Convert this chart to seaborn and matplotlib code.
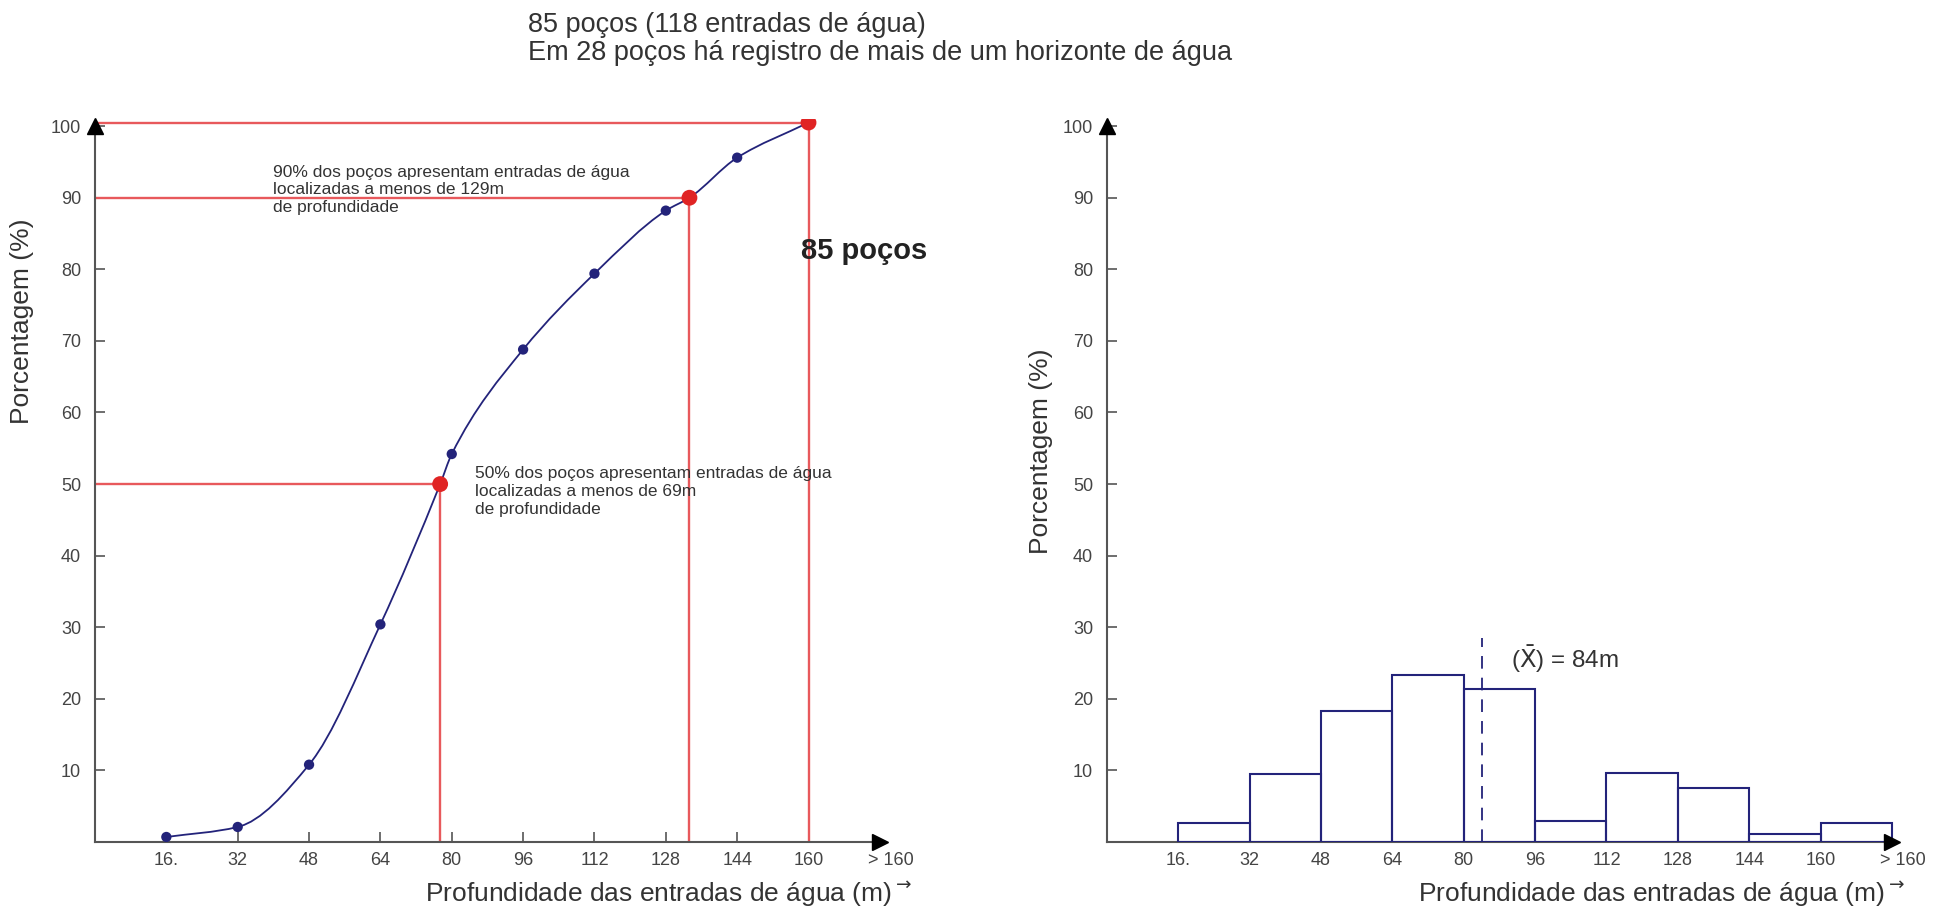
import numpy as np
import matplotlib
matplotlib.use("Agg")
import matplotlib.pyplot as plt
import seaborn as sns
from matplotlib.path import Path
from matplotlib.patches import PathPatch

# ---------------- data ----------------
depth_ticks = [16, 32, 48, 64, 80, 96, 112, 128, 144, 160]
depth_tick_labels = ["16.", "32", "48", "64", "80", "96", "112", "128", "144", "160"]
pct_ticks = [10, 20, 30, 40, 50, 60, 70, 80, 90, 100]

cum_depth = [16, 32, 48, 64, 80, 96, 112, 128, 144]
cum_pct = [0.7, 2.1, 10.8, 30.4, 54.2, 68.8, 79.4, 88.2, 95.6]

marker_depth = [77.4, 133.3, 160]
marker_pct = [50, 90, 100.5]

bin_edges = [16, 32, 48, 64, 80, 96, 112, 128, 144, 160, 176]
bin_pct = [2.6, 9.5, 18.3, 23.3, 21.4, 2.9, 9.6, 7.5, 1.1, 2.6]
mean_depth = 84
mean_line_top = 28.5

title_lines = ["85 poços (118 entradas de água)",
               "Em 28 poços há registro de mais de um horizonte de água"]
note_90 = "90% dos poços apresentam entradas de água\nlocalizadas a menos de 129m\nde profundidade"
note_50 = "50% dos poços apresentam entradas de água\nlocalizadas a menos de 69m\nde profundidade"

# ---------------- style ----------------
sns.set_theme(style="white")
plt.rcParams["font.family"] = ["Liberation Sans", "DejaVu Sans"]

NAVY = "#23237a"
RED_PT = "#e02424"
RED_LN = "#e8595c"
AX_C = "#555555"
TXT = "#333333"

fig = plt.figure(figsize=(19.36, 9.11), dpi=100)
fig.patch.set_facecolor("white")
axL = fig.add_axes([95 / 1936, 69 / 911, 796 / 1936, 723 / 911])
axR = fig.add_axes([1107 / 1936, 69 / 911, 796 / 1936, 723 / 911])

# ---------------- left: cumulative curve ----------------
xs = np.array(sorted(cum_depth + marker_depth), dtype=float)
all_y = dict(zip(cum_depth + marker_depth, cum_pct + marker_pct))
ys = np.array([all_y[x] for x in xs], dtype=float)

h = np.diff(xs)
d = np.diff(ys) / h
m = np.zeros_like(ys)
m[0], m[-1] = d[0], d[-1]
for k in range(1, len(xs) - 1):
    if d[k - 1] * d[k] <= 0:
        m[k] = 0.0
    else:
        w1 = 2 * h[k] + h[k - 1]
        w2 = h[k] + 2 * h[k - 1]
        m[k] = (w1 + w2) / (w1 / d[k - 1] + w2 / d[k])
verts = [(xs[0], ys[0])]
codes = [Path.MOVETO]
for k in range(len(xs) - 1):
    verts += [(xs[k] + h[k] / 3, ys[k] + m[k] * h[k] / 3),
              (xs[k + 1] - h[k] / 3, ys[k + 1] - m[k + 1] * h[k] / 3),
              (xs[k + 1], ys[k + 1])]
    codes += [Path.CURVE4] * 3
axL.add_patch(PathPatch(Path(verts, codes), facecolor="none",
                        edgecolor=NAVY, lw=1.3, zorder=3))

for x, y in zip(marker_depth, marker_pct):
    axL.hlines(y, 0, x, color=RED_LN, lw=1.7, zorder=2)
    axL.vlines(x, 0, y, color=RED_LN, lw=1.7, zorder=2)

sns.scatterplot(x=cum_depth, y=cum_pct, ax=axL, color=NAVY, s=55,
                edgecolor="none", zorder=4, legend=False)
sns.scatterplot(x=marker_depth, y=marker_pct, ax=axL, color=RED_PT, s=130,
                edgecolor="none", zorder=5, legend=False)

axL.text(40, 91.1, note_90, fontsize=12.5, color=TXT, va="center", ha="left",
         linespacing=1.2)
axL.text(85.3, 49.0, note_50, fontsize=12.5, color=TXT, va="center", ha="left",
         linespacing=1.25)
axL.text(158.3, 82.5, "85 poços", fontsize=21, fontweight="bold",
         color="#222222", va="center", ha="left")

# ---------------- right: histogram ----------------
bin_mids = [(a + b) / 2 for a, b in zip(bin_edges[:-1], bin_edges[1:])]
sns.histplot(x=bin_mids, weights=bin_pct, bins=bin_edges, ax=axR,
             fill=False, color=NAVY, linewidth=1.5, zorder=3)
axR.vlines(mean_depth, 0, mean_line_top, color=NAVY, lw=1.3,
           linestyles=(0, (7, 5)), zorder=4)
axR.text(90.5, 25.6, r"($\bar{\mathrm{X}}$) = 84m", fontsize=17.5,
         color=TXT, va="center", ha="left")

# ---------------- axes styling ----------------
for ax, ylab_xy, xlab_xy in [(axL, (-0.092, 0.72), (0.72, -0.073)),
                             (axR, (-0.083, 0.541), (0.697, -0.073))]:
    ax.set_xlim(0, 176)
    ax.set_ylim(0, 101)
    ax.set_facecolor("white")
    for s in ["top", "right"]:
        ax.spines[s].set_visible(False)
    ax.spines["left"].set_bounds(0, 100)
    ax.spines["bottom"].set_bounds(0, 176)
    for s in ["left", "bottom"]:
        ax.spines[s].set_color(AX_C)
        ax.spines[s].set_linewidth(1.5)
    ax.set_xticks(depth_ticks, labels=depth_tick_labels)
    ax.set_xticks([178.5], labels=["> 160"], minor=True)
    ax.set_yticks(pct_ticks)
    ax.tick_params(axis="both", which="major", direction="in", length=7,
                   width=1.2, color=AX_C, labelsize=13, labelcolor="#444444",
                   bottom=True, left=True)
    ax.tick_params(axis="x", which="major", pad=7)
    ax.tick_params(axis="y", which="major", pad=10)
    ax.tick_params(axis="x", which="minor", length=0, labelsize=13,
                   labelcolor="#444444", pad=7, bottom=True)
    ax.plot([176], [0], marker=">", color="black", ms=12, clip_on=False,
            zorder=6)
    ax.plot([0], [100], marker="^", color="black", ms=12, clip_on=False,
            zorder=6)
    ax.set_ylabel("Porcentagem (%)", fontsize=19, color=TXT)
    ax.yaxis.set_label_coords(*ylab_xy)
    ax.yaxis.label.set_va("center")
    ax.set_xlabel(r"Profundidade das entradas de água (m)$^{\rightarrow}$",
                  fontsize=19, color=TXT)
    ax.xaxis.set_label_coords(*xlab_xy)
    ax.xaxis.label.set_va("center")
    ax.grid(False)

fig.text(528 / 1936, 1 - 25.5 / 911, title_lines[0], fontsize=19.5,
         color=TXT, ha="left", va="center")
fig.text(528 / 1936, 1 - 53 / 911, title_lines[1], fontsize=19.5,
         color=TXT, ha="left", va="center")

fig.savefig("out.png", dpi=100, facecolor="white")
